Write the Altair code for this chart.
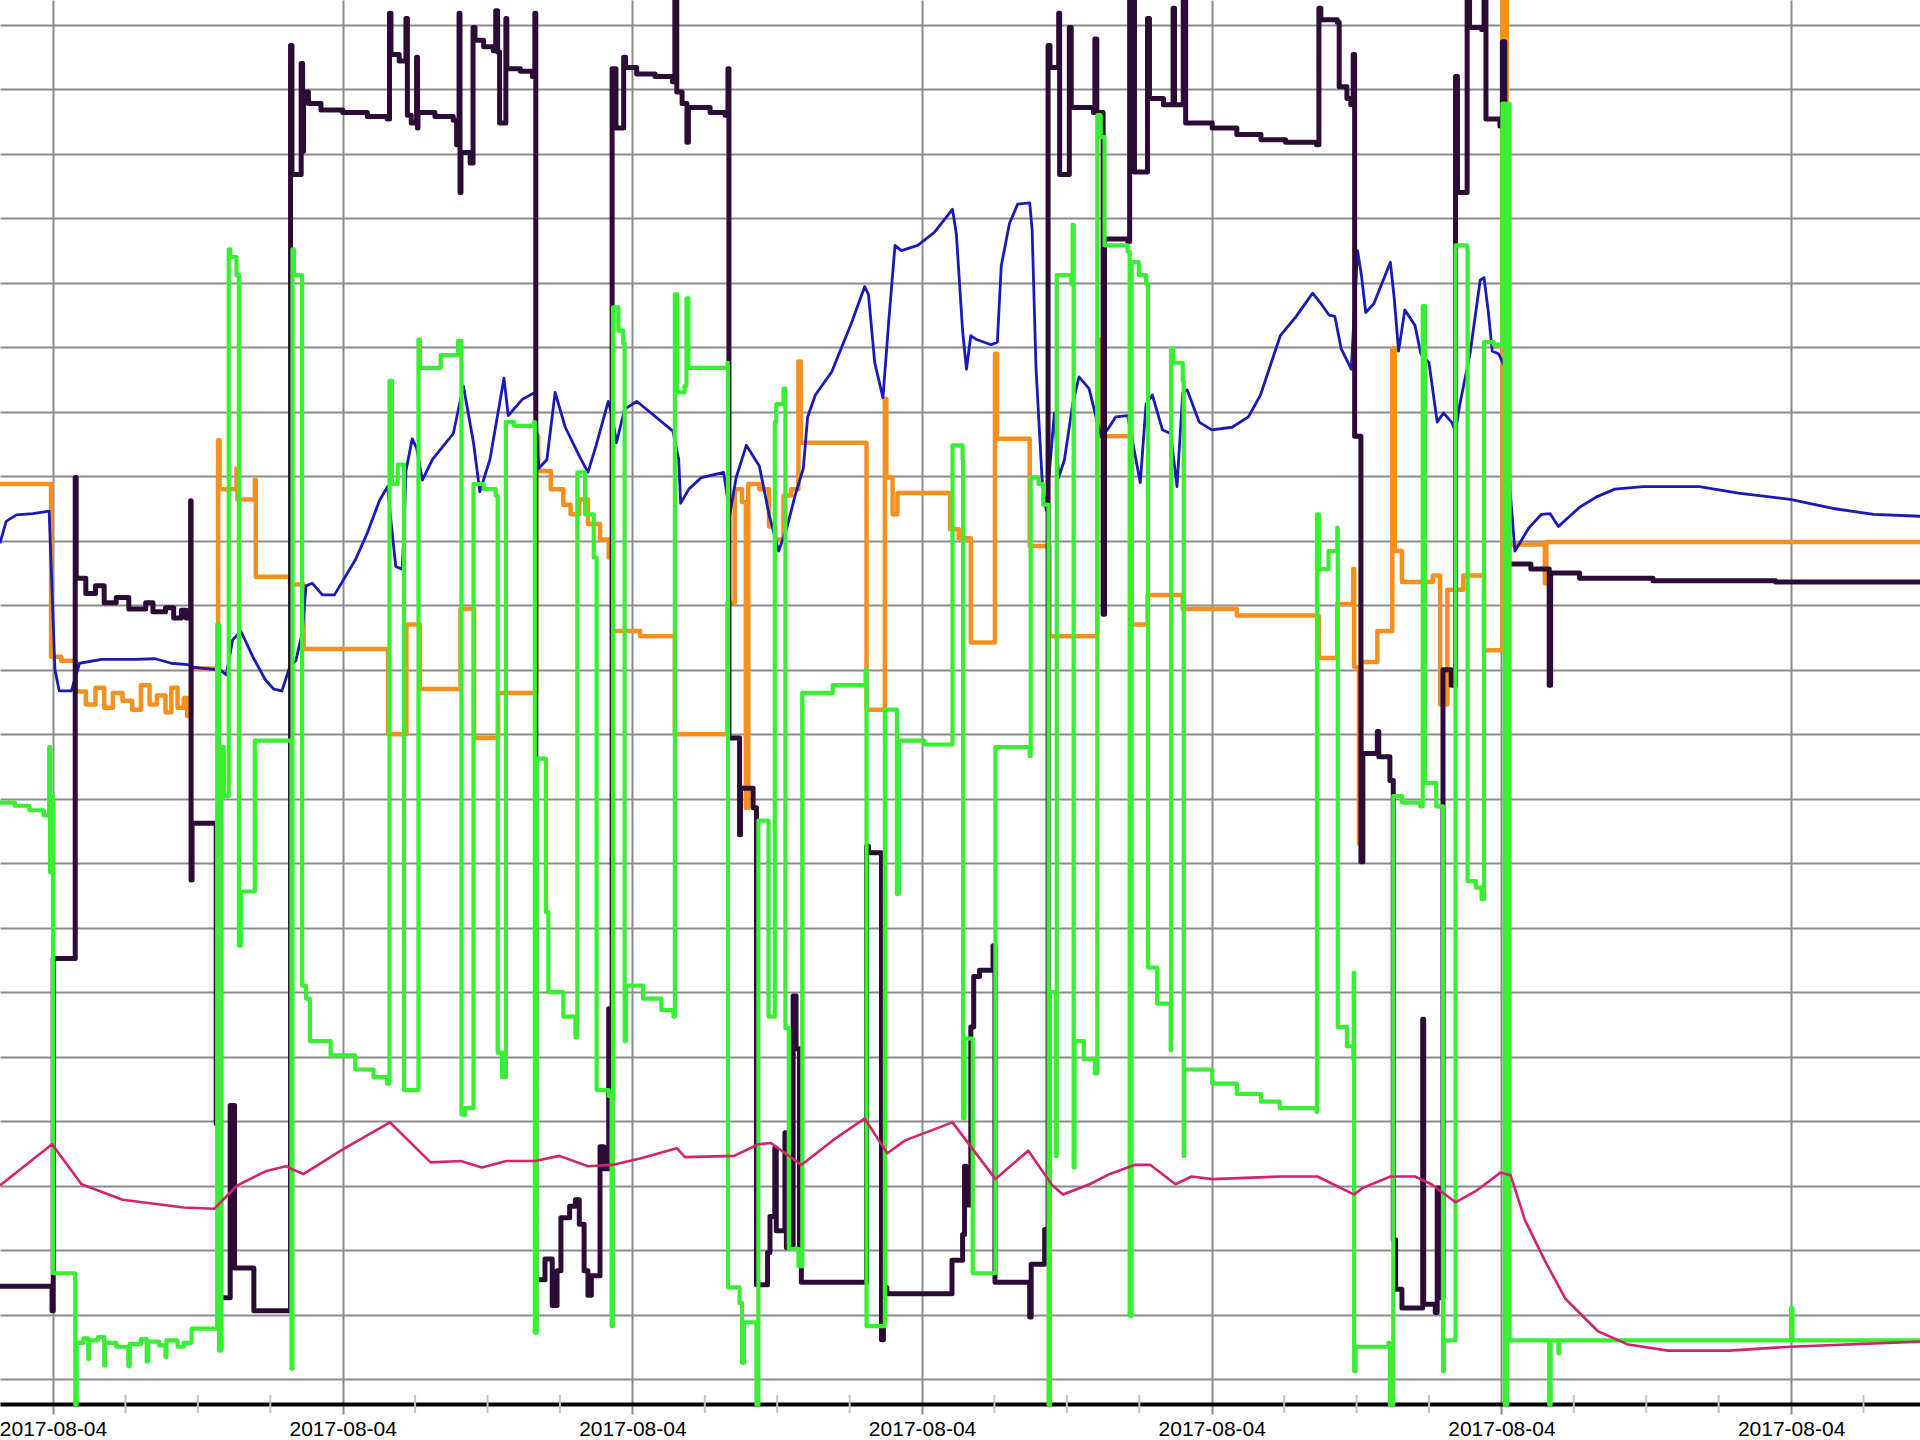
import altair as alt
import pandas as pd

# ---------------- data (x: minutes after the first labelled tick, y: signal units) ----------------
DATE_LABEL = "2017-08-04"
HOUR_TICKS = [0, 60, 120, 180, 240, 300, 360]
QUARTER_TICKS = [15, 30, 45, 75, 90, 105, 135, 150, 165, 195, 210, 225,
                 255, 270, 285, 315, 330, 345, 375]
GRID_VALUES = list(range(0, 106, 5))
X_DOMAIN = [-10.98, 386.7]
Y_DOMAIN = [-1.94, 106.93]

purple_t = [-11.0, -0.2, 0.05, 4.6, 4.8, 6.8, 8.8, 10.6, 13.1, 15.7, 19.2, 20.7, 23.3, 25.0, 26.6, 27.6,
            28.5, 28.6, 28.8, 33.8, 34.7, 36.7, 37.6, 41.6, 49.2, 49.5, 51.4, 51.7, 51.9, 52.9, 55.5,
            60.0, 65.1, 69.2, 69.7, 70.0, 71.7, 73.1, 73.4, 74.2, 75.3, 75.5, 75.6, 79.1, 82.9, 83.6,
            84.1, 84.3, 84.5, 86.4, 87.0, 87.4, 89.2, 91.2, 91.7, 92.1, 92.5, 93.8, 94.0, 96.8, 99.3,
            99.8, 100.0, 101.9, 103.4, 104.4, 105.2, 107.0, 108.2, 109.0, 110.0, 110.8, 111.5, 113.3,
            114.1, 115.1, 115.5, 115.8, 116.6, 118.2, 118.6, 120.9, 124.7, 128.3, 128.8, 129.2, 130.3,
            131.3, 131.6, 136.1, 139.2, 139.8, 140.0, 142.2, 142.4, 145.0, 145.7, 148.0, 148.5, 149.5,
            149.8, 151.6, 151.9, 153.3, 153.9, 154.6, 155.0, 168.5, 168.9, 171.6, 172.0, 172.7, 186.2,
            188.4, 188.8, 189.1, 190.1, 190.7, 191.9, 194.7, 195.1, 202.3, 202.6, 205.4, 206.1, 206.5,
            208.3, 208.5, 210.5, 210.9, 215.5, 215.8, 216.2, 217.5, 217.8, 222.6, 223.0, 224.0, 226.7,
            227.1, 230.0, 232.0, 232.3, 234.1, 234.6, 240.1, 245.2, 250.2, 255.3, 261.7, 262.2, 262.6,
            266.0, 266.4, 268.0, 268.8, 269.3, 269.6, 270.9, 271.3, 274.3, 274.6, 276.9, 277.6, 278.1,
            279.4, 283.7, 283.9, 286.3, 286.7, 287.0, 287.9, 289.6, 290.5, 290.9, 292.9, 293.4, 295.9,
            296.4, 296.8, 299.7, 300.2, 300.7, 301.5, 306.1, 309.9, 310.2, 316.2, 331.4, 356.8, 386.7]
purple_v = [7.2, 5.3, 32.6, 69.9, 62.1, 60.9, 61.5, 60.2, 60.6, 59.7, 60.2, 59.5, 59.8, 59.0, 59.6, 59.0,
            68.1, 38.7, 43.1, 19.8, 6.3, 21.2, 8.6, 5.3, 103.4, 93.4, 102.0, 95.2, 99.8, 98.9, 98.4,
            98.2, 97.9, 97.7, 105.9, 102.7, 102.2, 105.5, 98.0, 97.4, 102.5, 97.0, 98.2, 97.9, 97.6, 95.7,
            105.9, 92.0, 95.1, 94.3, 104.8, 103.8, 103.3, 103.0, 106.1, 102.9, 97.4, 105.5, 101.6, 101.4, 101.0,
            105.9, 7.7, 9.3, 5.7, 8.4, 12.5, 13.4, 13.9, 12.0, 8.4, 6.5, 8.0, 18.0,
            16.3, 28.7, 23.0, 101.6, 97.0, 102.5, 101.7, 101.2, 101.0, 100.6, 106.9, 99.8, 98.9,
            95.9, 98.6, 98.2, 98.0, 101.6, 49.7, 42.2, 45.8, 44.3, 7.3, 9.8, 12.6, 17.9,
            11.5, 19.1, 10.2, 29.7, 25.6, 9.6, 7.5, 41.3, 40.8, 3.05, 7.1, 6.6, 9.2,
            11.2, 16.5, 13.5, 27.3, 31.2, 31.7, 33.6, 7.5, 4.8, 8.9, 11.6, 103.4, 101.7,
            105.9, 93.4, 104.8, 98.6, 98.2, 103.9, 98.2, 59.3, 88.4, 88.2, 106.9, 93.6, 105.5,
            99.3, 98.8, 106.3, 98.8, 106.9, 97.4, 97.0, 96.5, 96.1, 95.9, 95.7, 106.3, 105.4,
            105.2, 100.2, 99.3, 98.8, 102.7, 73.1, 40.1, 48.5, 50.2, 48.25, 46.4, 10.8, 6.95,
            5.5, 27.9, 5.8, 5.15, 14.8, 6.3, 55.0, 53.8, 101.0, 92.0, 106.9, 104.8, 104.65,
            106.9, 97.7, 97.15, 103.7, 80.7, 63.2, 62.8, 53.8, 62.5, 62.1, 61.9, 61.8, 61.7]

green_t = [-11.0, -7.9, -4.9, -1.9, -0.8, -0.6, -0.4, 0.0, 4.6,
           4.9, 6.3, 7.3, 7.5, 9.3, 10.6, 10.8, 13.1, 15.6, 15.9, 18.2, 19.4, 19.7, 22.0, 23.3, 23.5,
           25.8, 27.1, 28.7, 34.0,
           34.4, 34.9, 35.4, 36.4, 36.7, 38.0, 38.5, 38.9, 41.8, 49.4, 49.6, 49.9, 51.6, 52.4, 53.2,
           57.5, 62.6, 66.4, 69.2, 69.7, 70.2, 71.4, 72.7, 75.7, 76.0, 80.3, 83.9, 84.6, 85.4, 87.1,
           89.2, 91.7, 92.1, 93.0, 93.8, 95.5, 99.6, 99.8, 100.2, 102.1, 102.6, 105.7, 108.2, 108.6,
           110.2, 112.0, 112.6, 115.1, 115.7, 116.0, 117.1, 118.1, 118.4, 118.7, 122.2, 126.0, 128.5,
           128.8, 129.3, 130.8, 131.2, 131.6, 139.7, 139.8, 142.2, 142.7, 143.1, 145.7, 146.1, 148.2,
           149.5, 149.8, 151.3, 151.7, 152.4, 154.4, 155.2, 161.5, 168.3, 168.5, 172.3, 174.8, 175.2,
           180.5, 186.3, 188.4, 188.5, 188.8, 190.5, 195.2, 202.3, 202.5, 204.1, 205.1, 206.2, 206.5,
           207.7, 207.9, 210.9, 211.2, 211.4, 211.6, 213.5, 215.8, 216.3, 217.0, 217.8, 222.6, 223.0,
           223.4, 224.9, 226.4, 226.8, 228.7, 231.5, 231.6, 232.0, 234.0, 234.2, 234.3, 240.1, 245.2,
           250.2, 254.1, 261.7, 261.8, 262.2, 264.2, 266.0, 266.1, 268.0, 269.3, 269.4, 269.5, 269.8,
           276.6, 276.9, 277.6, 279.4, 283.2, 283.7, 284.2, 286.5, 287.9, 288.1, 290.5, 292.9, 293.0,
           294.7, 295.9, 296.4, 298.4, 300.2, 300.7, 301.2, 301.7, 309.9, 310.2, 311.8, 312.0, 360.0,
           360.3, 386.7]
green_v = [44.7, 44.45, 44.1, 43.7, 49.0, 39.3, 45.2, 8.2, -2.0,
           2.8, 3.15, 1.55, 3.0, 3.25, 1.05, 2.8, 2.5, 1.0, 2.7, 3.1, 1.35, 2.9, 2.6, 1.7, 3.0,
           2.5, 2.8, 3.9, 58.5,
           2.2, 49.0, 45.2, 87.6, 87.0, 85.6, 33.6, 37.8, 49.5, 0.8, 87.6, 85.6, 30.5, 29.5, 26.2,
           25.1, 24.0, 23.4, 22.9, 77.4, 69.4, 70.9, 22.4, 80.6, 78.4, 79.4, 80.5, 20.5, 21.0, 69.4,
           69.0, 68.5, 25.3, 23.4, 74.2, 73.9, 74.2, 3.6, 48.1, 36.2, 30.0, 28.1, 26.5, 70.3,
           67.05, 63.7, 22.4, 21.95, 4.1, 83.1, 81.3, 80.3, 26.2, 30.5, 29.5, 28.6, 28.1,
           84.1, 76.5, 77.0, 83.8, 78.4, 78.8, 7.1, 5.9, 1.25, 4.4, -2.0, 43.3, 28.1,
           74.2, 75.6, 76.8, 27.2, 10.1, 8.75, 53.2, 53.8, 55.0, 4.1, 51.9, 37.6, 49.5,
           49.2, 72.4, 71.3, 20.2, 26.4, 8.2, 49.0, 48.3, 69.9, 69.4, 67.8, -2.0, 30.0,
           17.3, 85.6, 84.9, 89.5, 16.4, 26.2, 24.8, 23.7, 98.0, 96.3, 87.9, 87.4, 4.9,
           86.6, 85.6, 84.9, 31.9, 29.1, 25.5, 79.9, 78.8, 77.4, 17.3, 24.0, 22.9, 22.1,
           21.5, 21.0, 20.7, 67.05, 62.8, 64.2, 66.0, 27.3, 25.8, 24.8, 31.5, 0.6, 2.5,
           2.8, -2.0, 45.2, 44.7, 44.4, 83.2, 46.2, 44.4, 0.6, 3.0, 87.9, 87.6, 38.6,
           38.1, 37.2, 80.4, 80.2, 98.9, -2.0, 98.9, 3.0, -2.0, 3.0, 2.0, 3.0, 5.5,
           3.0, 3.0]

orange_t = [-11.0, -0.4, 1.7, 4.7, 6.8, 8.8, 10.6, 12.4, 14.4, 16.4, 18.2, 20.0, 21.5, 23.3, 24.5, 25.8,
            27.1, 27.8, 28.6, 34.2, 34.5, 38.0, 38.2, 41.8, 42.0, 49.1, 51.9, 69.4, 73.2, 76.0, 84.4,
            87.2, 92.2, 100.1, 100.5, 103.1, 105.7, 107.2, 109.0, 110.8, 113.3, 115.1, 115.8, 121.6,
            128.8, 139.7, 141.2, 142.7, 143.5, 144.0, 146.3, 148.3, 149.6, 151.3, 152.9, 154.4, 154.9,
            168.5, 172.3, 172.6, 173.9, 174.9, 185.8, 187.6, 190.1, 195.1, 195.5, 202.3, 206.4, 216.3,
            216.8, 223.4, 226.7, 234.0, 245.2, 254.1, 262.2, 266.0, 269.3, 269.5, 270.5, 271.0, 274.3,
            277.4, 277.9, 279.4, 285.8, 287.3, 288.8, 292.1, 296.4, 300.2, 301.1, 309.0, 309.3, 386.7]
orange_v = [69.4, 56.0, 55.7, 53.3, 52.3, 53.6, 52.05, 53.2, 52.6, 51.9, 53.8, 52.3, 53.0, 51.7, 53.6, 52.05,
            52.8, 51.4, 55.1, 72.8, 69.0, 70.6, 68.2, 69.7, 62.2, 61.6, 56.6, 50.0, 58.5, 53.5, 59.7,
            49.7, 53.2, 73.1, 70.4, 69.0, 67.8, 67.05, 68.2, 66.3, 65.1, 63.7, 58.0, 57.6,
            50.0, 60.2, 69.0, 68.0, 44.3, 69.4, 69.0, 66.1, 65.1, 68.5, 69.0, 78.9, 72.6,
            51.9, 76.0, 69.9, 67.05, 68.7, 65.9, 65.2, 57.1, 79.5, 72.9, 64.6, 57.6, 80.6,
            73.1, 58.5, 60.8, 59.7, 59.2, 59.2, 55.9, 60.1, 62.8, 55.2, 41.5, 55.6, 58.0,
            79.9, 64.2, 61.8, 62.3, 52.3, 61.2, 62.3, 56.5, 106.9, 64.7, 61.7, 64.9, 64.9]

blue_t = [-11.0, -9.7, -7.6, -4.2, -0.8, -0.4, 0.4, 1.3, 3.8, 5.5, 10.1, 16.9, 21.2, 24.5, 27.9, 28.8,
          34.7, 35.9, 37.2, 38.9, 41.4, 44.0, 45.7, 47.4, 49.1, 50.3, 51.6, 52.4, 53.7, 55.8, 58.3,
          62.6, 65.1, 67.6, 69.3, 70.2, 71.0, 72.3, 72.7, 73.1, 74.4, 75.3, 76.5, 78.6, 82.9, 85.0,
          87.1, 88.4, 90.5, 93.4, 94.3, 97.2, 99.8, 100.6, 102.3, 104.0, 106.1, 109.1, 110.8, 112.5,
          115.0, 115.8, 116.7, 118.4, 120.9, 121.6, 128.4, 129.6, 130.0, 131.7, 134.3, 138.9, 140.2,
          141.5, 143.6, 146.3, 148.3, 150.3, 152.0, 153.7, 155.4, 156.3, 157.9, 161.3, 165.5, 168.1,
          168.9, 170.2, 171.9, 173.1, 174.4, 175.7, 179.1, 182.5, 186.3, 187.1, 188.4, 189.2, 190.1,
          191.3, 194.3, 195.6, 196.4, 198.1, 199.8, 202.3, 202.8, 203.6, 204.9, 205.7, 206.6, 207.4,
          208.3, 209.5, 211.2, 212.5, 214.6, 216.3, 217.1, 218.4, 220.1, 222.6, 225.2, 226.4, 227.7,
          229.8, 231.5, 232.8, 234.0, 234.9, 237.4, 240.0, 244.2, 247.6, 250.1, 254.2, 257.5, 260.9,
          262.6, 264.3, 265.5, 266.8, 268.9, 270.2, 271.0, 271.9, 273.6, 277.0, 277.8, 278.7, 280.0,
          282.1, 283.3, 285.0, 286.7, 288.0, 289.7, 290.5, 291.4, 293.5, 295.6, 296.4, 297.3, 298.1,
          299.4, 300.8, 301.8, 302.8, 305.7, 308.3, 310.1, 311.8, 316.2, 319.7, 323.5, 329.3, 341.0,
          349.1, 359.8, 368.7, 377.1, 386.7]
blue_v = [64.8, 66.5, 67.0, 67.1, 67.3, 63.2, 55.0, 53.35, 53.35, 55.5, 55.8, 55.8, 55.85, 55.5, 55.4, 55.2,
          54.96, 54.6, 57.3, 58.0, 56.0, 54.2, 53.5, 53.35, 55.3, 55.7, 57.8, 61.5, 61.7, 60.8, 60.8,
          63.5, 65.6, 68.1, 69.2, 65.8, 63.0, 62.8, 65.6, 70.4, 72.9, 72.2, 69.7, 71.3, 73.3, 77.0,
          72.6, 68.8, 71.3, 77.6, 74.7, 75.96, 76.5, 70.6, 71.3, 76.5, 73.8, 71.5, 70.3, 72.4,
          75.8, 74.7, 72.6, 75.2, 75.8, 75.6, 73.5, 71.3, 67.9, 69.0, 69.9, 70.3, 67.05,
          69.9, 72.4, 70.8, 67.05, 64.2, 66.0, 68.5, 70.6, 74.6, 76.3, 78.1, 82.0, 84.7,
          84.1, 78.8, 76.1, 82.0, 87.9, 87.5, 87.9, 88.9, 90.7, 88.8, 81.3, 78.3, 80.9,
          80.6, 80.2, 80.4, 86.3, 89.6, 91.1, 91.2, 89.1, 78.4, 69.5, 67.4, 71.3, 74.9,
          69.9, 71.3, 75.6, 77.7, 76.8, 74.2, 73.1, 73.6, 74.6, 74.7, 69.5, 75.6, 76.3,
          73.6, 73.3, 69.2, 76.5, 76.7, 74.2, 73.6, 73.8, 74.6, 76.3, 80.9, 82.4, 84.2,
          83.4, 82.5, 82.4, 79.9, 78.3, 87.5, 85.6, 82.7, 83.4, 86.6, 83.8, 79.7, 82.9,
          81.7, 79.5, 78.8, 74.2, 74.9, 74.2, 73.5, 75.6, 79.5, 85.2, 85.4, 82.7, 79.7,
          79.5, 78.4, 68.95, 64.2, 66.0, 67.05, 67.1, 66.1, 67.6, 68.4, 69.0, 69.2, 69.2,
          68.7, 68.2, 67.5, 67.05, 66.9]

magenta_t = [-11.0, -0.2, 5.9, 14.4, 27.1, 33.4, 38.1, 44.0, 48.2, 49.9, 51.9, 54.1, 60.0, 69.8, 78.2,
             84.5, 88.8, 93.9, 99.8, 104.9, 110.8, 115.8, 121.6, 129.2, 130.9, 141.1, 146.1, 148.7,
             155.0, 161.5, 168.1, 172.8, 176.5, 186.3, 195.2, 202.0, 207.0, 209.2, 214.7, 218.9,
             224.0, 227.3, 232.5, 235.8, 240.1, 254.3, 261.9, 269.5, 271.2, 277.0, 282.1, 285.5,
             290.5, 294.8, 299.8, 301.9, 304.9, 309.1, 313.3, 320.0, 326.0, 334.5, 347.2, 359.8, 386.7]
magenta_v = [15.0, 18.2, 15.1, 13.9, 13.3, 13.2, 15.0, 16.1, 16.5, 16.2, 15.9, 16.4, 17.8, 19.9, 16.8,
             16.9, 16.4, 16.9, 16.9, 17.3, 16.5, 16.6, 17.1, 17.9, 17.2, 17.3, 18.2, 18.3,
             16.6, 18.5, 20.2, 17.5, 18.5, 19.9, 15.5, 17.7, 15.0, 14.3, 15.1, 15.9,
             16.6, 16.6, 15.1, 15.7, 15.5, 15.7, 15.7, 14.3, 14.8, 15.7, 15.7, 15.1,
             13.7, 14.6, 16.0, 15.8, 12.3, 9.1, 6.2, 3.7, 2.7, 2.2, 2.2, 2.5, 2.9]

# ---------------- chart ----------------
GRID = "#8c8c8c"
x_enc = alt.X(
    "t:Q",
    scale=alt.Scale(domain=X_DOMAIN, nice=False, zero=False),
    axis=alt.Axis(values=HOUR_TICKS, labelExpr=f"'{DATE_LABEL}'", title=None,
                  grid=True, gridColor=GRID, gridWidth=2,
                  ticks=True, tickColor=GRID, tickWidth=2, tickSize=10,
                  domain=True, domainColor="#000000", domainWidth=4,
                  labelFont="Liberation Sans", labelFontSize=21, labelColor="#000000",
                  labelBaseline="alphabetic", labelPadding=21,
                  labelFlush=False, labelOverlap=False),
)
y_enc = alt.Y(
    "v:Q",
    scale=alt.Scale(domain=Y_DOMAIN, nice=False, zero=False),
    axis=alt.Axis(values=GRID_VALUES, labels=False, ticks=False, domain=False, title=None,
                  grid=True, gridColor=GRID, gridWidth=2),
)


def layer(ts, vs, color, width, interp):
    df = pd.DataFrame({"t": ts, "v": vs, "i": list(range(len(ts)))})
    return alt.Chart(df).mark_line(
        interpolate=interp, color=color, strokeWidth=width, strokeJoin="round"
    ).encode(x=x_enc, y=y_enc, order=alt.Order("i:Q"))


minor = alt.Chart(pd.DataFrame({"t": QUARTER_TICKS})).mark_rule(
    color="#c4c4c4", strokeWidth=2
).encode(x=x_enc, y=alt.value(1395), y2=alt.value(1413))

chart = alt.layer(
    minor,
    layer(orange_t, orange_v, "#f5901f", 4.5, "step-after"),
    layer(blue_t, blue_v, "#1a1ab4", 2.8, "linear"),
    layer(purple_t, purple_v, "#2c0b36", 5, "step-after"),
    layer(green_t, green_v, "#3aee34", 4.2, "step-after"),
    layer(magenta_t, magenta_v, "#d0246e", 2.6, "linear"),
).properties(
    width=1920, height=1404,
    padding={"left": 0, "top": 0, "right": 0, "bottom": 36},
    autosize=alt.AutoSizeParams(type="none"),
    background="white",
).configure_view(stroke=None)

chart.save("out.html", embed_options={"renderer": "svg", "actions": False})
